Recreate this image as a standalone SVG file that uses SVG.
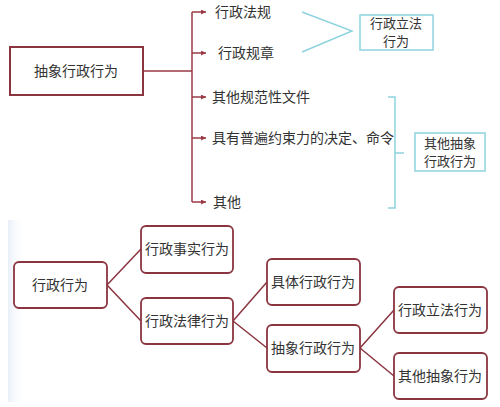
<svg xmlns="http://www.w3.org/2000/svg" width="500" height="407" viewBox="0 0 500 407">
<defs>
<style>
text{font-family:"Noto Sans CJK SC","Noto Sans",sans-serif;font-size:14px;fill:#333}
.c{text-anchor:middle}
.s{font-size:13px}
.red{fill:#fff;stroke:#8b3540;stroke-width:2}
.rl{fill:none;stroke:#9b3a45;stroke-width:1.5}
.bl{fill:#fff;stroke:#8fd3df;stroke-width:1.5}
.bline{fill:none;stroke:#8fd3df;stroke-width:1.5}
.rr{fill:#fff;stroke:#8b3540;stroke-width:1.8}
.cn{fill:none;stroke:#8b3540;stroke-width:1.5}
</style>
<marker id="ah" viewBox="0 0 6 6" refX="6" refY="3" markerWidth="5" markerHeight="5" markerUnits="userSpaceOnUse" orient="auto"><path d="M0,0L6,3L0,6z" fill="#9b3a45"/></marker>
<linearGradient id="strip" x1="0" x2="1" y1="0" y2="0"><stop offset="0" stop-color="#e9eff8"/><stop offset="1" stop-color="#fff" stop-opacity="0"/></linearGradient>
</defs>
<rect width="500" height="407" fill="#fff"/>
<rect x="8" y="220" width="17" height="182" fill="url(#strip)"/>
<g id="connectors">
<path class="rl" d="M143,71H192M192,12V202"/>
<path class="rl" marker-end="url(#ah)" d="M192,12H206"/>
<path class="rl" marker-end="url(#ah)" d="M192,53H206"/>
<path class="rl" marker-end="url(#ah)" d="M192,97H206"/>
<path class="rl" marker-end="url(#ah)" d="M192,138H206"/>
<path class="rl" marker-end="url(#ah)" d="M192,202H206"/>
<path class="bline" d="M302,12L352,31L302,52"/>
<path class="bline" d="M388,97H395V208H388M395,153H404"/>
<path class="cn" d="M107,285L141,249M107,285L141,321"/>
<path class="cn" d="M233,321L267,282M233,321L267,348"/>
<path class="cn" d="M360,348L394,310M360,348L394,376"/>
</g>
<g id="n-abstract-top"><rect class="red" x="10" y="47" width="133" height="48"/><text class="c" x="76" y="76">抽象行政行为</text></g>
<g id="t1"><text x="215" y="17">行政法规</text></g>
<g id="t2"><text x="218" y="58">行政规章</text></g>
<g id="t3"><text x="212" y="102">其他规范性文件</text></g>
<g id="t4"><text x="212" y="143">具有普遍约束力的决定、命令</text></g>
<g id="t5"><text x="213" y="207">其他</text></g>
<g id="n-legis-top"><rect class="bl" x="360" y="15" width="73" height="35"/><text class="c s" x="396" y="28">行政立法</text><text class="c s" x="396" y="46">行为</text></g>
<g id="n-other-top"><rect class="bl" x="415" y="133" width="70" height="38"/><text class="c s" x="450" y="148">其他抽象</text><text class="c s" x="450" y="166">行政行为</text></g>
<g id="n-xzxw"><rect class="rr" x="14" y="262" width="93" height="46" rx="5"/><text class="c" x="60" y="290">行政行为</text></g>
<g id="n-shishi"><rect class="rr" x="141" y="226" width="92" height="47" rx="5"/><text class="c" x="187" y="254">行政事实行为</text></g>
<g id="n-falv"><rect class="rr" x="141" y="298" width="92" height="46" rx="5"/><text class="c" x="187" y="326">行政法律行为</text></g>
<g id="n-juti"><rect class="rr" x="267" y="259" width="93" height="46" rx="5"/><text class="c" x="313" y="287">具体行政行为</text></g>
<g id="n-chouxiang"><rect class="rr" x="267" y="325" width="93" height="47" rx="5"/><text class="c" x="313" y="353">抽象行政行为</text></g>
<g id="n-lifa"><rect class="rr" x="394" y="287" width="93" height="46" rx="5"/><text class="c" x="440" y="315">行政立法行为</text></g>
<g id="n-qita"><rect class="rr" x="394" y="353" width="93" height="46" rx="5"/><text class="c" x="440" y="381">其他抽象行为</text></g>
</svg>
